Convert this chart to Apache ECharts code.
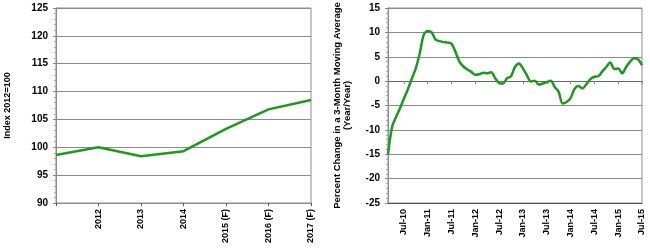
<!DOCTYPE html>
<html>
<head>
    <meta charset="utf-8">
    <title>Index and percent change</title>
    <script src="https://cdn.jsdelivr.net/npm/echarts@6/dist/echarts.min.js"></script>
    <style>
        html, body { margin: 0; padding: 0; background: #fff; }
        #main { width: 650px; height: 248px; }
    </style>
</head>
<body>
<div id="main"></div>
<script>
    // left panel: annual index, first year unlabeled
    var years = ['', '2012', '2013', '2014', '2015 (F)', '2016 (F)', '2017 (F)'];
    var indexValues = [98.6, 100.0, 98.4, 99.3, 103.3, 106.8, 108.5];

    // right panel: monthly, Mar-10 .. Jul-15
    var months = [
        'Mar-10', 'Apr-10', 'May-10', 'Jun-10', 'Jul-10', 'Aug-10', 'Sep-10', 'Oct-10', 'Nov-10', 'Dec-10',
        'Jan-11', 'Feb-11', 'Mar-11', 'Apr-11', 'May-11', 'Jun-11', 'Jul-11', 'Aug-11', 'Sep-11', 'Oct-11', 'Nov-11', 'Dec-11',
        'Jan-12', 'Feb-12', 'Mar-12', 'Apr-12', 'May-12', 'Jun-12', 'Jul-12', 'Aug-12', 'Sep-12', 'Oct-12', 'Nov-12', 'Dec-12',
        'Jan-13', 'Feb-13', 'Mar-13', 'Apr-13', 'May-13', 'Jun-13', 'Jul-13', 'Aug-13', 'Sep-13', 'Oct-13', 'Nov-13', 'Dec-13',
        'Jan-14', 'Feb-14', 'Mar-14', 'Apr-14', 'May-14', 'Jun-14', 'Jul-14', 'Aug-14', 'Sep-14', 'Oct-14', 'Nov-14', 'Dec-14',
        'Jan-15', 'Feb-15', 'Mar-15', 'Apr-15', 'May-15', 'Jun-15', 'Jul-15'
    ];
    var pctChange = [
        -15.0, -9.5, -7.4, -5.6, -3.6, -1.7, 0.5, 2.6, 5.7, 9.5,
        10.3, 10.0, 8.5, 8.2, 8.0, 7.9, 7.7, 6.0, 4.0, 3.0, 2.4, 1.9,
        1.3, 1.4, 1.7, 1.6, 1.8, 0.6, -0.4, -0.5, 0.6, 1.0, 2.9, 3.6,
        2.6, 1.2, -0.1, 0.1, -0.7, -0.5, -0.2, 0.1, -1.2, -2.2, -4.6, -4.3,
        -3.5, -1.6, -1.0, -1.5, -0.6, 0.4, 0.9, 1.0, 2.0, 2.9, 3.8, 2.5,
        2.6, 1.6, 2.9, 4.0, 4.7, 4.5, 3.3
    ];

    var font = 'Arial, "Liberation Sans", sans-serif';
    var green = '#1c9a1c';
    var gridGray = '#8c8c8c';

    // only Jan and Jul get a tick and a label
    function janJul(i) { return (i - 4) % 6 === 0; }

    var yLabel = { color: '#000', fontFamily: font, fontWeight: 'bold', fontSize: 10, margin: 8 };
    var xLabel = { color: '#000', fontFamily: font, fontWeight: 'bold', fontSize: 9, rotate: 90, margin: 6 };
    var nameStyle = { color: '#000', fontFamily: font, fontWeight: 'bold', fontSize: 9, align: 'center' };

    var myChart = echarts.init(document.getElementById('main'), null, { renderer: 'canvas' });

    var option = {
        animation: false,
        grid: [
            { left: 56, top: 8, width: 255, height: 195, show: true, borderColor: gridGray, borderWidth: 1, outerBoundsMode: 'none' },
            { left: 388, top: 8, width: 254, height: 195, show: true, borderColor: gridGray, borderWidth: 1, outerBoundsMode: 'none' }
        ],
        xAxis: [
            {
                gridIndex: 0, type: 'category', data: years, boundaryGap: false,
                axisLine: { onZero: false, lineStyle: { color: gridGray } },
                axisTick: { show: true, length: 3, alignWithLabel: true, interval: 0, lineStyle: { color: '#555' } },
                axisLabel: Object.assign({ interval: 0 }, xLabel),
                splitLine: { show: false }
            },
            {
                gridIndex: 1, type: 'category', data: months, boundaryGap: false,
                axisLine: { onZero: true, lineStyle: { color: '#666' } },
                axisTick: { show: true, length: 3, interval: janJul, lineStyle: { color: '#888' } },
                axisLabel: { show: false },
                splitLine: { show: false }
            },
            {
                gridIndex: 1, type: 'category', data: months, boundaryGap: false, position: 'bottom',
                axisLine: { onZero: false, lineStyle: { color: '#555' } },
                axisTick: { show: false },
                axisLabel: Object.assign({ interval: janJul }, xLabel),
                splitLine: { show: false }
            }
        ],
        yAxis: [
            {
                gridIndex: 0, type: 'value', min: 90, max: 125, interval: 5,
                name: 'Index 2012=100', nameLocation: 'middle', nameRotate: 90, nameGap: 44,
                nameTextStyle: nameStyle,
                axisLine: { show: true, lineStyle: { color: gridGray } },
                axisTick: { show: true, length: 3, lineStyle: { color: '#888' } },
                minorTick: { show: true, splitNumber: 5, length: 2, lineStyle: { color: '#aaa' } },
                axisLabel: yLabel,
                splitLine: { lineStyle: { color: gridGray, width: 1 } }
            },
            {
                gridIndex: 1, type: 'value', min: -25, max: 15, interval: 5,
                name: 'Percent Change in a 3-Month Moving Average\n(Year/Year)',
                nameLocation: 'middle', nameRotate: 90, nameGap: 35,
                nameTextStyle: Object.assign({}, nameStyle, { fontSize: 9.5, lineHeight: 10.5 }),
                axisLine: { show: true, lineStyle: { color: gridGray } },
                axisTick: { show: true, length: 3, lineStyle: { color: '#888' } },
                minorTick: { show: true, splitNumber: 5, length: 2, lineStyle: { color: '#aaa' } },
                axisLabel: yLabel,
                splitLine: { lineStyle: { color: gridGray, width: 1 } }
            }
        ],
        series: [
            {
                name: 'Index', type: 'line', xAxisIndex: 0, yAxisIndex: 0,
                data: indexValues, symbol: 'none',
                lineStyle: { color: green, width: 2.5 }
            },
            {
                name: 'Percent change', type: 'line', xAxisIndex: 1, yAxisIndex: 1,
                data: pctChange, symbol: 'none', smooth: 0.3,
                lineStyle: { color: green, width: 2.5 }
            }
        ]
    };

    myChart.setOption(option);
</script>
</body>
</html>
